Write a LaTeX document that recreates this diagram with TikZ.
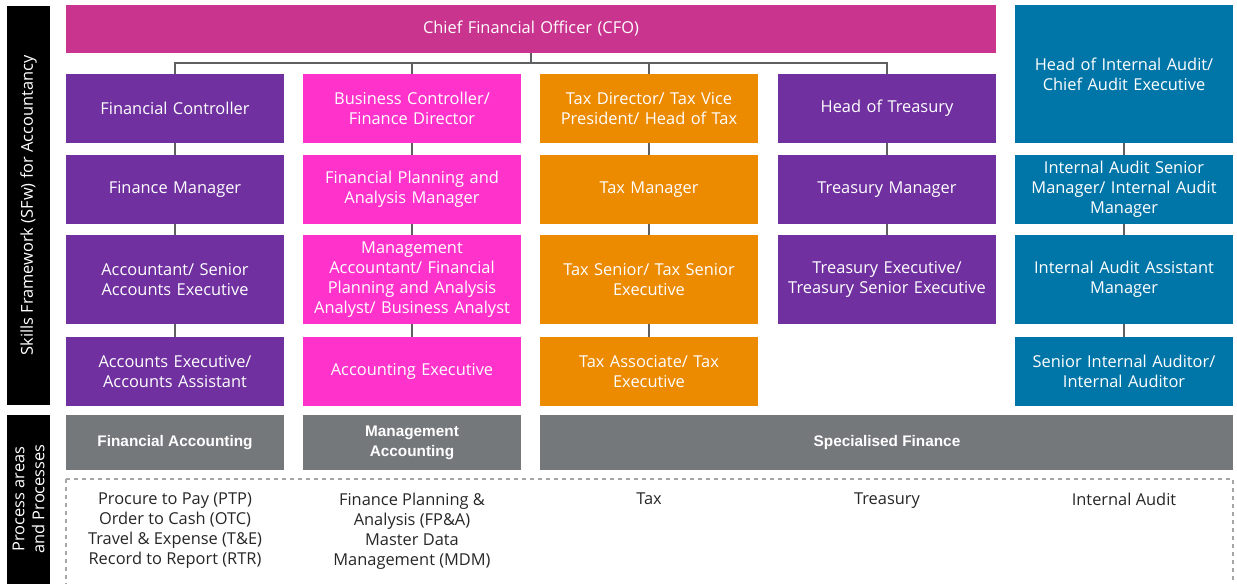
\documentclass[tikz,border=0pt]{standalone}
\usepackage{fontspec}
\setmainfont{Open Sans}
\newfontfamily\arialfont{Liberation Sans}
\usetikzlibrary{positioning}

\definecolor{cfomag}{HTML}{C9348F}
\definecolor{rolepurple}{HTML}{7030A0}
\definecolor{rolepink}{HTML}{FF33CC}
\definecolor{roleorange}{HTML}{EC8A00}
\definecolor{roleteal}{HTML}{0076A8}
\definecolor{areagray}{HTML}{75787B}
\definecolor{linegray}{HTML}{5F6062}

\tikzset{
  role/.style={fill=#1, text=white, inner sep=0pt, minimum width=163.5pt, minimum height=51.75pt,
    align=center, text width=160pt, font=\fontsize{12.3}{15}\selectfont},
  tallrole/.style={role=#1, minimum height=66.75pt},
  area/.style={fill=areagray, text=white, inner sep=0pt, minimum height=41.25pt, align=center,
    font=\arialfont\bfseries\fontsize{11.5}{15}\selectfont},
  sidebar/.style={fill=black, text=white, inner sep=0pt, align=center, rotate=90,
    font=\fontsize{12.3}{15}\selectfont},
  proc/.style={anchor=north, align=center, text=black!85, inner sep=0pt, font=\fontsize{12.3}{15}\selectfont},
  conn/.style={draw=linegray, line width=1.2pt}
}

\begin{document}
\begin{tikzpicture}[x=0.75pt,y=-0.75pt]
\useasboundingbox (0,0) rectangle (1237,583);
\clip (0,0) rectangle (1237,583);

% side labels
\fill[black] (7,6) rectangle (50,405);
\fill[black] (7,415) rectangle (50,600);
\node[sidebar] (sfw) at (28.5,205.5) {Skills Framework (SFw) for Accountancy};
\node[sidebar] (procside) at (28.5,499) {Process areas\\and Processes};

% top
\node[role=cfomag, minimum width=697.5pt, minimum height=36pt, text width=600pt] (cfo) at (531,29) {Chief Financial Officer (CFO)};
\node[role=roleteal, minimum height=103.5pt] (hia) at (1124,74) {Head of Internal Audit/\\Chief Audit Executive};

% financial accounting
\node[role=rolepurple] (fc) at (175,108.5) {Financial Controller};
\node[role=rolepurple] (fm) at (175,189.5) {Finance Manager};
\node[tallrole=rolepurple] (acc) at (175,279.5) {Accountant/ Senior\\Accounts Executive};
\node[role=rolepurple] (ae) at (175,371.5) {Accounts Executive/\\Accounts Assistant};

% management accounting
\node[role=rolepink] (bc) at (412,108.5) {Business Controller/\\Finance Director};
\node[role=rolepink] (fpa) at (412,189.5) {Financial Planning and\\Analysis Manager};
\node[tallrole=rolepink] (ma) at (412,279.5) {Management\\Accountant/ Financial\\Planning and Analysis\\Analyst/ Business Analyst};
\node[role=rolepink] (acex) at (412,371.5) {Accounting Executive};

% tax
\node[role=roleorange] (td) at (649,108.5) {Tax Director/ Tax Vice\\President/ Head of Tax};
\node[role=roleorange] (tm) at (649,189.5) {Tax Manager};
\node[tallrole=roleorange] (ts) at (649,279.5) {Tax Senior/ Tax Senior\\Executive};
\node[role=roleorange] (ta) at (649,371.5) {Tax Associate/ Tax\\Executive};

% treasury
\node[role=rolepurple] (ht) at (887,108.5) {Head of Treasury};
\node[role=rolepurple] (trm) at (887,189.5) {Treasury Manager};
\node[tallrole=rolepurple] (tre) at (887,279.5) {Treasury Executive/\\Treasury Senior Executive};

% internal audit
\node[role=roleteal] (iasm) at (1124,189.5) {Internal Audit Senior\\Manager/ Internal Audit\\Manager};
\node[tallrole=roleteal] (iaam) at (1124,279.5) {Internal Audit Assistant\\Manager};
\node[role=roleteal] (sia) at (1124,371.5) {Senior Internal Auditor/\\Internal Auditor};

% connectors
\coordinate (bus) at (531,63);
\draw[conn] (cfo.south) -- (bus);
\draw[conn] (bus) -| (fc.north);
\draw[conn] (bus) -| (bc.north);
\draw[conn] (bus) -| (td.north);
\draw[conn] (bus) -| (ht.north);
\draw[conn] (fc.south) -- (fm.north);
\draw[conn] (fm.south) -- (acc.north);
\draw[conn] (acc.south) -- (ae.north);
\draw[conn] (bc.south) -- (fpa.north);
\draw[conn] (fpa.south) -- (ma.north);
\draw[conn] (ma.south) -- (acex.north);
\draw[conn] (td.south) -- (tm.north);
\draw[conn] (tm.south) -- (ts.north);
\draw[conn] (ts.south) -- (ta.north);
\draw[conn] (ht.south) -- (trm.north);
\draw[conn] (trm.south) -- (tre.north);
\draw[conn] (hia.south) -- (iasm.north);
\draw[conn] (iasm.south) -- (iaam.north);
\draw[conn] (iaam.south) -- (sia.north);

% process areas
\node[area, minimum width=163.5pt] (finacc) at (175,442.5) {Financial Accounting};
\node[area, minimum width=163.5pt] (mgtacc) at (412,442.5) {Management\\Accounting};
\fill[areagray] (540,415) rectangle (1233,470);
\node[area, fill=none] (specfin) at (887,442.5) {Specialised Finance};

% processes
\draw[draw=black!35, dashed, line width=0.8pt] (66,479) rectangle (1233,610);
\node[proc] (p1) at (175,493) {Procure to Pay (PTP)\\Order to Cash (OTC)\\Travel \& Expense (T\&E)\\Record to Report (RTR)};
\node[proc] (p2) at (412,493) {Finance Planning \&\\Analysis (FP\&A)\\Master Data\\Management (MDM)};
\node[proc] (p3) at (649,493) {Tax};
\node[proc] (p4) at (887,493) {Treasury};
\node[proc] (p5) at (1124,493) {Internal Audit};
\end{tikzpicture}
\end{document}
